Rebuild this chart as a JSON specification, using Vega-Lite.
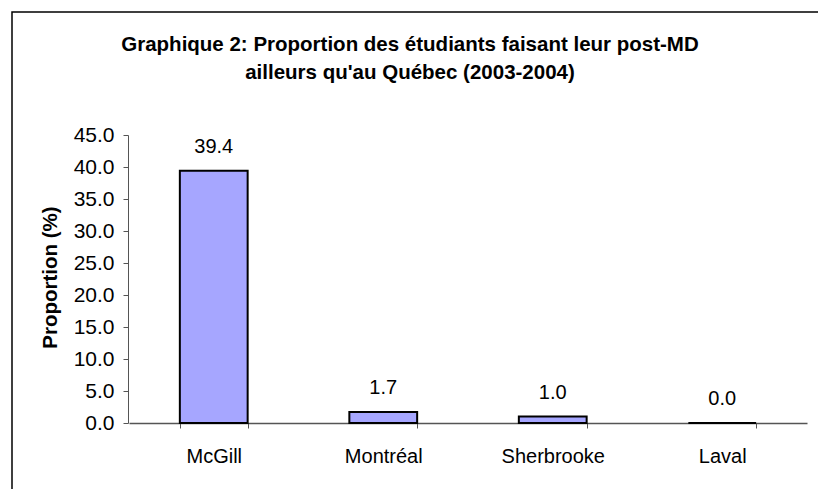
{
  "$schema": "https://vega.github.io/schema/vega-lite/v6.json",
  "width": 816,
  "height": 487,
  "autosize": {"type": "none"},
  "padding": {"left": 12, "top": 12, "right": -10, "bottom": -10},
  "background": "white",
  "config": {
    "view": {"stroke": "black", "strokeWidth": 1.5},
    "font": "Liberation Sans",
    "axis": {"grid": false, "domainColor": "#555", "tickColor": "#555", "tickSize": 5, "labelColor": "black", "titleColor": "black", "labelFont": "Liberation Sans", "titleFont": "Liberation Sans"}
  },
  "title": {
    "text": ["Graphique 2: Proportion des étudiants faisant leur post-MD", "ailleurs qu'au Québec (2003-2004)"],
    "font": "Liberation Sans",
    "fontSize": 20.5,
    "fontWeight": "bold",
    "color": "black",
    "lineHeight": 28,
    "anchor": "middle",
    "frame": "group",
    "offset": 0,
    "dx": -10,
    "dy": 71
  },
  "data": {
    "values": [
      {"universite": "McGill", "proportion": 39.4},
      {"universite": "Montréal", "proportion": 1.7},
      {"universite": "Sherbrooke", "proportion": 1.0},
      {"universite": "Laval", "proportion": 0.0}
    ]
  },
  "encoding": {
    "x": {
      "field": "universite",
      "type": "nominal",
      "sort": null,
      "scale": {"range": [117, 795], "paddingInner": 0.6, "paddingOuter": 0.3},
      "axis": {"title": null, "labelAngle": 0, "offset": -76, "tickBand": "extent", "labelFontSize": 20, "labelPadding": 18, "domainWidth": 1.5}
    },
    "y": {
      "field": "proportion",
      "type": "quantitative",
      "scale": {"domain": [0, 45], "range": [411, 123], "nice": false},
      "axis": {
        "title": "Proportion (%)",
        "values": [0, 5, 10, 15, 20, 25, 30, 35, 40, 45],
        "format": ".1f",
        "offset": -116,
        "labelFontSize": 21,
        "labelPadding": 9,
        "titleFontSize": 20.5,
        "titleFontWeight": "bold",
        "titleAngle": 270,
        "titleAlign": "center",
        "titleBaseline": "middle",
        "titleX": -78,
        "titleY": 265
      }
    }
  },
  "layer": [
    {"mark": {"type": "bar", "fill": "#A6A6FF", "stroke": "black", "strokeWidth": 2}},
    {
      "mark": {"type": "text", "dy": -18, "baseline": "alphabetic", "fontSize": 20, "color": "black"},
      "encoding": {"text": {"field": "proportion", "type": "quantitative", "format": ".1f"}}
    }
  ]
}
